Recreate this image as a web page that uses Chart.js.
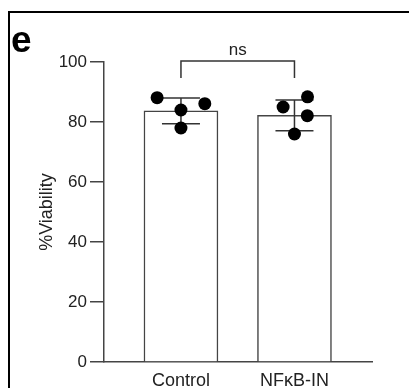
<!DOCTYPE html>
<html><head><meta charset="utf-8">
<script src="https://cdn.jsdelivr.net/npm/chart.js@4/dist/chart.umd.min.js"></script>
<style>html,body{margin:0;padding:0;background:#fff}#wrap{width:409px;height:388px;position:relative}</style>
</head><body><div id="wrap"><canvas id="c" width="409" height="388"></canvas></div>
<script>
const categories = ['Control', 'NFκB-IN'];
const categoryPositions = [1, 2];
const meanValues = [83.7, 82.2];
const sdValues = [4.3, 5.1];
const controlPoints = [88.1, 84.0, 86.1, 78.0];
const nfkbPoints = [88.4, 85.0, 82.1, 76.0];
const controlJitter = [-0.21, 0, 0.21, 0];
const nfkbJitter = [0.115, -0.1, 0.113, 0];
const yTicks = [0, 20, 40, 60, 80, 100];
const significanceLabel = 'ns';
const bracketLevels = [100.3, 94.7];
const panelLabel = 'e';
const yAxisTitle = '%Viability';

const FONT = "'Liberation Sans', Arial, sans-serif";
Chart.defaults.font.family = FONT;
Chart.defaults.color = '#222';

const pointSets = [controlPoints, nfkbPoints];
const jitterSets = [controlJitter, nfkbJitter];
const dots = [];
pointSets.forEach((vals, g) => vals.forEach((v, i) => dots.push({x: categoryPositions[g] + jitterSets[g][i], y: v})));

const decor = {
  id: 'decor',
  beforeDraw(chart) {
    const c = chart.ctx;
    c.save();
    c.fillStyle = '#fff';
    c.fillRect(0, 0, chart.width, chart.height);
    c.strokeStyle = '#000';
    c.lineWidth = 2;
    c.beginPath();
    c.moveTo(9, chart.height);
    c.lineTo(9, 12);
    c.lineTo(chart.width, 12);
    c.stroke();
    c.fillStyle = '#000';
    c.font = "bold 37px " + FONT;
    c.textBaseline = 'alphabetic';
    c.textAlign = 'left';
    c.fillText(panelLabel, 11, 52);
    c.restore();
  },
  afterDatasetDraw(chart, args) {
    if (args.index !== 0) return;
    const c = chart.ctx, xs = chart.scales.x, ys = chart.scales.y;
    c.save();
    c.strokeStyle = '#333';
    c.lineWidth = 1.5;
    categoryPositions.forEach((p, i) => {
      const px = xs.getPixelForValue(p);
      const hi = ys.getPixelForValue(meanValues[i] + sdValues[i]);
      const lo = ys.getPixelForValue(meanValues[i] - sdValues[i]);
      c.beginPath();
      c.moveTo(px, hi); c.lineTo(px, lo);
      c.moveTo(px - 19, hi); c.lineTo(px + 19, hi);
      c.moveTo(px - 19, lo); c.lineTo(px + 19, lo);
      c.stroke();
    });
    c.restore();
  },
  afterDraw(chart) {
    const c = chart.ctx, xs = chart.scales.x, ys = chart.scales.y;
    const x1 = xs.getPixelForValue(categoryPositions[0]);
    const x2 = xs.getPixelForValue(categoryPositions[1]);
    const yt = ys.getPixelForValue(bracketLevels[0]);
    const yb = ys.getPixelForValue(bracketLevels[1]);
    c.save();
    c.strokeStyle = '#333';
    c.lineWidth = 1.5;
    c.beginPath();
    c.moveTo(x1, yb); c.lineTo(x1, yt); c.lineTo(x2, yt); c.lineTo(x2, yb);
    c.stroke();
    c.fillStyle = '#222';
    c.font = "17px " + FONT;
    c.textAlign = 'center';
    c.textBaseline = 'alphabetic';
    c.fillText(significanceLabel, (x1 + x2) / 2, yt - 6);
    c.restore();
  }
};

new Chart(document.getElementById('c'), {
  type: 'bar',
  data: {
    datasets: [
      { type: 'bar', data: categoryPositions.map((x, i) => ({x, y: meanValues[i]})),
        backgroundColor: '#fff', borderColor: '#444', borderWidth: 1.5, barThickness: 74, order: 2 },
      { type: 'scatter', data: dots, pointRadius: 6.5, pointHoverRadius: 6.5,
        backgroundColor: '#000', borderColor: '#000', borderWidth: 0, order: 1 }
    ]
  },
  options: {
    responsive: false, animation: false, devicePixelRatio: 1,
    layout: {padding: {left: 0, top: 62, right: 37, bottom: 0}},
    plugins: {legend: {display: false}, tooltip: {enabled: false}},
    scales: {
      x: {
        type: 'linear', min: 0.322, max: 2.683, offset: false, bounds: 'ticks',
        afterBuildTicks: s => { s.ticks = categoryPositions.map(v => ({value: v})); },
        ticks: {callback: v => { const k = categoryPositions.indexOf(v); return k >= 0 ? categories[k] : ''; },
                font: {size: 18}, padding: 8, color: '#222', maxRotation: 0, autoSkip: false},
        grid: {drawOnChartArea: false, drawTicks: false, offset: false},
        border: {color: '#444', width: 1.5},
        afterFit: s => { s.height = 26; }
      },
      y: {
        min: 0, max: 100,
        afterBuildTicks: s => { s.ticks = yTicks.map(v => ({value: v})); },
        ticks: {font: {size: 17}, padding: 3, color: '#222'},
        grid: {drawOnChartArea: false, drawTicks: true, tickLength: 14, color: '#444', lineWidth: 1.5},
        border: {color: '#444', width: 1.5},
        title: {display: true, text: yAxisTitle, font: {size: 18}, color: '#222', padding: {top: 36, bottom: 0}},
        afterFit: s => { s.width = 104; }
      }
    }
  },
  plugins: [decor]
});
</script>
</body></html>
